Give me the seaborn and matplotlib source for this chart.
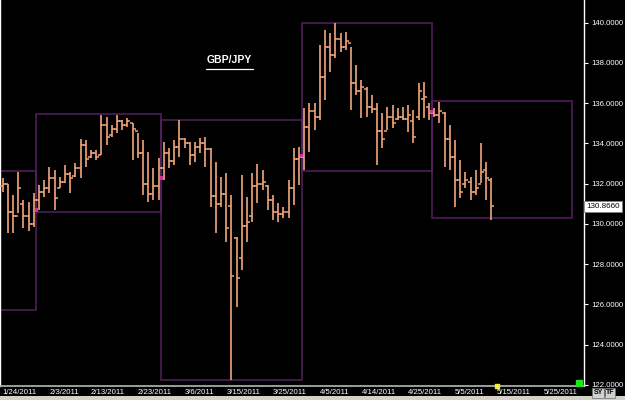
import numpy as np
import pandas as pd
import matplotlib
matplotlib.use("Agg")
import matplotlib.pyplot as plt
from matplotlib.patches import Rectangle
from matplotlib.transforms import blended_transform_factory
import seaborn as sns

# GBP/JPY daily bars (forex week: Sun-Fri), 1/24/2011 .. 5/13/2011
opens = [131.9, 132.0, 130.6, 130.4, 131.0, 130.4, 130.0,
         131.2, 131.6, 131.8, 132.3, 131.8, 132.1, 132.5, 132.4, 132.8, 133.9, 133.3, 133.5,
         133.4, 134.9, 134.4, 134.7, 135.1, 134.9, 135.0, 134.6, 133.5, 132.0, 131.5, 131.9,
         132.8, 133.5, 133.1, 133.8, 134.2, 134.0, 133.4, 133.8, 134.0, 133.7, 131.4, 131.0,
         131.5, 130.9, 129.3, 128.3, 129.9, 130.4, 131.9, 132.0, 131.9, 131.2, 130.6, 130.5,
         130.6, 131.8, 133.2,
         133.3, 134.8, 135.6, 135.3, 137.3, 138.8, 138.4, 139.2, 138.8, 139.0, 137.0, 136.6,
         136.7, 135.8, 135.7, 134.6, 134.6, 135.3, 135.2, 135.3, 135.2, 135.1, 135.3, 136.2,
         135.8,
         135.5, 135.4, 135.5, 134.2, 133.3, 132.2, 132.0, 132.1, 131.6, 132.0, 132.7, 132.2]
highs = [132.28, 131.98, 131.44, 132.58, 131.19, 131.09, 131.54,
         131.94, 132.18, 132.83, 132.68, 132.33, 132.93, 132.58, 133.03, 134.22, 134.17, 133.67, 133.67,
         135.41, 135.31, 134.91, 135.41, 135.16, 135.26, 135.01, 134.52, 134.17, 133.57, 132.78, 133.28,
         134.07, 133.77, 134.17, 135.16, 134.27, 134.07, 134.07, 134.27, 134.32, 133.77, 133.08, 132.33,
         132.53, 131.44, 129.35, 132.43, 131.34, 132.53, 132.98, 132.68, 131.94, 131.44, 131.04, 130.84,
         132.18, 133.77, 133.82,
         135.76, 136.00, 136.00, 138.88, 139.63, 139.48, 139.98, 139.48, 139.53, 138.78, 137.89, 137.15,
         136.80, 136.40, 136.00, 135.51, 135.81, 135.91, 135.76, 135.81, 135.91, 135.66, 137.00, 137.05,
         136.00,
         135.76, 136.05, 135.56, 134.91, 134.17, 133.18, 132.58, 132.33, 132.68, 134.02, 133.08, 132.28]
lows = [131.60, 129.55, 129.55, 130.55, 129.80, 129.65, 129.85,
        130.69, 131.34, 131.54, 130.69, 131.79, 132.03, 131.54, 132.33, 132.28, 132.83, 133.28, 133.18,
        133.42, 133.92, 134.32, 134.52, 134.66, 134.81, 133.18, 133.28, 131.44, 131.09, 131.19, 131.19,
        132.18, 132.78, 132.93, 133.32, 133.77, 132.93, 133.08, 133.52, 132.83, 130.84, 129.55, 130.84,
        129.11, 122.26, 125.88, 127.72, 129.11, 130.10, 131.04, 131.69, 130.69, 130.20, 130.10, 130.30,
        130.30, 130.94, 131.94,
        132.68, 133.57, 134.66, 135.16, 136.15, 137.54, 138.24, 138.54, 138.64, 135.66, 136.40, 135.26,
        135.31, 135.51, 132.93, 133.77, 134.66, 134.76, 135.16, 135.16, 134.57, 134.02, 135.16, 135.26,
        135.16,
        135.31, 135.01, 132.83, 132.68, 130.84, 131.29, 131.79, 131.19, 131.44, 132.03, 131.19, 130.20]
closes = [132.0, 130.6, 130.4, 131.8, 130.4, 130.0, 131.2,
          131.6, 131.8, 132.3, 131.3, 132.1, 132.5, 132.3, 132.8, 133.9, 133.2, 133.5, 133.3,
          134.9, 134.3, 134.7, 135.1, 134.9, 135.1, 134.7, 133.5, 132.0, 131.5, 131.9, 132.8,
          133.5, 133.1, 133.8, 134.2, 134.0, 133.4, 133.8, 134.0, 133.7, 131.4, 131.0, 131.5,
          129.8, 127.4, 127.3, 129.9, 130.1, 131.9, 132.0, 132.1, 131.2, 130.6, 130.5, 130.6,
          131.8, 133.2, 133.3,
          134.8, 135.6, 135.3, 137.3, 138.8, 138.4, 139.2, 138.8, 139.1, 137.0, 136.6, 136.8,
          135.8, 135.7, 134.6, 134.2, 135.3, 135.0, 135.3, 135.2, 135.4, 134.3, 136.6, 136.3,
          135.5,
          135.4, 135.6, 134.2, 133.3, 132.2, 131.6, 132.2, 131.6, 131.8, 132.6, 132.3, 130.866]

# monthly range boxes (Jan .. May)
months = ["2011-01", "2011-02", "2011-03", "2011-04", "2011-05"]
month_high = [132.63, 135.46, 135.16, 140.00, 136.10]
month_low = [125.73, 130.60, 122.26, 132.63, 130.30]
month_open = [np.nan, 130.69, 132.28, 133.38, 135.60]

tick_dates = ["2011-01-24", "2011-02-03", "2011-02-13", "2011-02-23", "2011-03-06",
              "2011-03-15", "2011-03-25", "2011-04-05", "2011-04-14", "2011-04-25",
              "2011-05-05", "2011-05-15", "2011-05-25"]
tick_labels = ["1/24/2011", "2/3/2011", "2/13/2011", "2/23/2011", "3/6/2011",
               "3/15/2011", "3/25/2011", "4/5/2011", "4/14/2011", "4/25/2011",
               "5/5/2011", "5/15/2011", "5/25/2011"]
price_ticks = [122, 124, 126, 128, 130, 132, 134, 136, 138, 140]
last_price = 130.866

# trading calendar, Sunday..Friday
days = pd.bdate_range("2011-01-24", "2011-06-30", freq="C",
                      weekmask="Sun Mon Tue Wed Thu Fri")
df = pd.DataFrame({"open": opens, "high": highs, "low": lows, "close": closes})
df["date"] = days[:len(df)]
df["i"] = np.arange(len(df))

def day_index(d):
    return int(np.searchsorted(days, pd.Timestamp(d)))

sns.set_theme(style="dark", rc={"axes.facecolor": "black", "figure.facecolor": "black"})
plt.rcParams["font.family"] = ["Liberation Sans", "DejaVu Sans"]

bar_color = "#f2a67a"
box_color = "#55215f"

fig = plt.figure(figsize=(6.25, 4), dpi=100)
ax = fig.add_axes([0, 14 / 400, 584 / 625, 386 / 400])

# monthly boxes
starts = [day_index(m + "-01") - 0.5 for m in months]
ends = starts[1:] + [day_index("2011-06-01") - 0.5]
starts[0] = -10
for s, e, hi, lo in zip(starts, ends, month_high, month_low):
    ax.add_patch(Rectangle((s, lo), e - s, hi - lo, fill=False, edgecolor=box_color, lw=1.1, zorder=1))

# OHLC bars
ax.vlines(df["i"], df["low"], df["high"], color=bar_color, lw=1.2, zorder=3)
sns.scatterplot(x=df["i"], y=df["open"], marker=0, s=6, color=bar_color, linewidth=1.1,
                ax=ax, legend=False, zorder=3)
sns.scatterplot(x=df["i"], y=df["close"], marker=1, s=6, color=bar_color, linewidth=1.1,
                ax=ax, legend=False, zorder=3)

mo = pd.DataFrame({"x": starts, "y": month_open}).dropna()
sns.scatterplot(data=mo, x="x", y="y", marker="s", s=5, color="#d0309a", edgecolor="none",
                ax=ax, legend=False, zorder=4)

ax.set_xlim(-0.5, 111.8)
ax.set_ylim(121.95, 141.12)

# axes styling
ax.yaxis.tick_right()
ax.set_yticks(price_ticks)
ax.set_yticklabels([f"{v:.4f}" for v in price_ticks])
ax.set_xticks([day_index(d) for d in tick_dates])
ax.set_xticklabels(tick_labels, ha="left")
ax.tick_params(axis="y", colors="white", labelsize=5.6, length=3, width=0.8, pad=2)
ax.tick_params(axis="x", colors="#b0b0b0", labelcolor="white", labelsize=5.6, length=2,
               width=0.8, pad=0.5)
ax.set_xlabel("")
ax.set_ylabel("")
ax.grid(False)
for side in ["left", "right"]:
    ax.spines[side].set_visible(True)
    ax.spines[side].set_color("white")
    ax.spines[side].set_linewidth(1)
ax.spines["bottom"].set_visible(True)
ax.spines["bottom"].set_color("#b0b0b0")
ax.spines["top"].set_visible(False)

# title
ax.text(0.393, 0.845, "GBP/JPY", transform=ax.transAxes, color="white", fontsize=7.5,
        fontweight="bold", ha="center", va="center")
ax.plot([0.352, 0.433], [0.82, 0.82], transform=ax.transAxes, color="white", lw=0.9)

# last price tag
tr = blended_transform_factory(ax.transAxes, ax.transData)
ax.text(1.004, last_price, "130.8660", transform=tr, color="black", fontsize=5.8,
        ha="left", va="center", clip_on=False,
        bbox=dict(facecolor="white", edgecolor="#808080", pad=1.5, lw=0.6))

# markers at the corner / on the time axis
ax.scatter([0.992], [0.008], transform=ax.transAxes, marker="s", s=22, color="#22e022",
           zorder=5, clip_on=False)
ax.scatter([day_index("2011-05-15")], [121.95], marker="s", s=8, color="#f0f040",
           zorder=5, clip_on=False)

# small chart buttons and status strip
for x0, lab in [(0.957, "SY"), (0.976, "TF")]:
    fig.text(x0, 0.0175, lab, color="black", fontsize=5, fontweight="bold", ha="center",
             va="center", bbox=dict(facecolor="#d0d0d0", edgecolor="#707070", pad=0.8, lw=0.5))
fig.add_artist(Rectangle((0, 0), 1, 4 / 400, transform=fig.transFigure,
                         facecolor="#d4d0c8", edgecolor="none"))

fig.savefig("out.png", dpi=100, facecolor="black")
